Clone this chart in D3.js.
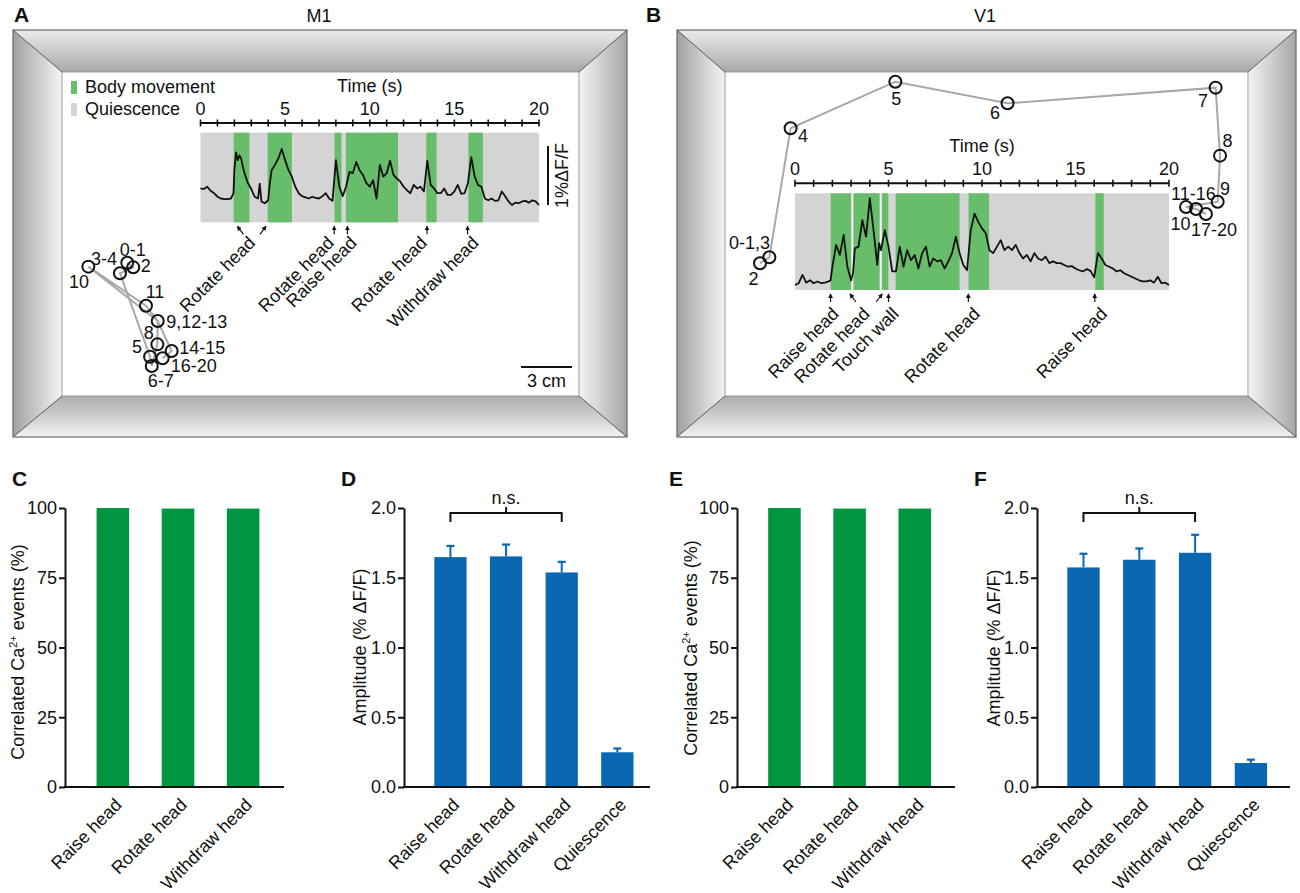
<!DOCTYPE html>
<html>
<head>
<meta charset="utf-8">
<script src="https://d3js.org/d3.v7.min.js"></script>
<style>
  body { margin: 0; background: #fff; }
  svg text { font-family: Arial, "Liberation Sans", Helvetica, sans-serif; fill: #111; }
</style>
</head>
<body>
<div id="fig"></div>
<script>
// ---------- data ----------
// panel A (M1): calcium trace, % dF/F against time (s)
const timeA = [0,0.2,0.4,0.6,0.8,1.0,1.2,1.4,1.6,1.8,1.95,2.0,2.1,2.2,2.3,2.4,2.5,2.6,2.8,3.0,3.2,3.4,3.5,3.6,3.8,4.0,4.1,4.2,
  4.4,4.6,4.8,5.0,5.2,5.4,5.6,5.8,6.0,6.2,6.4,6.6,6.8,7.0,7.2,7.4,7.6,7.8,8.0,8.2,8.4,8.6,8.8,9.0,9.2,9.4,9.6,9.8,
  10.0,10.2,10.4,10.6,10.8,11.0,11.2,11.4,11.6,11.8,12.0,12.2,12.4,12.6,12.8,13.0,13.2,13.4,13.6,13.8,14.0,14.2,14.4,
  14.6,14.8,15.0,15.2,15.4,15.6,15.8,16.0,16.2,16.4,16.6,16.8,17.0,17.2,17.4,17.6,17.8,18.0,18.2,18.4,18.6,18.8,19.0,
  19.2,19.4,19.6,19.8,20.0];
const dffA = [0.28,0.27,0.31,0.24,0.20,0.14,0.11,0.10,0.10,0.11,0.20,0.59,0.89,0.76,0.84,0.79,0.65,0.54,0.37,0.27,0.14,0.11,
  0.36,0.06,0.03,0.08,0.37,0.59,0.68,0.79,0.95,0.76,0.59,0.48,0.31,0.20,0.15,0.13,0.11,0.14,0.12,0.11,0.15,0.20,0.11,0.07,
  0.76,0.31,0.15,0.31,0.56,0.54,0.73,0.59,0.51,0.37,0.31,0.42,0.11,0.68,0.48,0.54,0.75,0.51,0.45,0.40,0.31,0.25,0.20,0.34,
  0.28,0.31,0.23,0.75,0.34,0.28,0.20,0.20,0.28,0.17,0.17,0.23,0.34,0.19,0.20,0.37,0.81,0.48,0.34,0.31,0.11,0.08,0.11,0.07,
  0.08,0.23,0.15,0.06,0.00,0.04,0.03,0.06,0.07,0.04,0.08,0.06,0.00];
const moveA = [[1.96,2.89],[3.97,5.40],[7.92,8.33],[8.59,11.67],[13.34,13.95],[15.83,16.68]];
const arrowTA = [2.36,3.69,7.9,8.68,13.38,15.78];
const arrowDirA = [-1,1,0,0,0,0];
const eventLabA = ["Rotate head","Rotate head","Raise head","Rotate head","Withdraw head"];
const eventTA = [3.3,7.95,9.3,13.45,16.5];

// panel A: head position (cm) at each second 0..20
const posXA = [3.84,3.84,4.19,3.41,3.41,5.18,5.28,5.28,5.61,5.63,1.55,4.94,5.63,5.63,6.45,6.45,5.92,5.92,5.92,5.92,5.92];
const posYA = [11.22,11.22,11.49,11.84,11.84,16.75,17.29,17.29,16.02,14.65,11.45,13.75,14.65,14.65,16.41,16.41,16.84,16.84,16.84,16.84,16.84];
const markLabA = ["0-1","2","3-4","5","6-7","8","9,12-13","10","11","14-15","16-20"];
const markSecA = [0,2,3,5,6,8,9,10,11,14,16];

// panel B (V1)
const timeB = [0,0.2,0.4,0.6,0.8,1.0,1.2,1.4,1.6,1.8,1.9,2.0,2.2,2.4,2.6,2.8,3.0,3.1,3.2,3.4,3.6,3.8,4.0,4.2,4.4,4.5,
  4.6,4.8,5.0,5.2,5.4,5.6,5.8,6.0,6.2,6.4,6.6,6.8,7.0,7.2,7.4,7.6,7.8,8.0,8.2,8.4,8.6,8.8,9.0,9.2,9.4,9.6,9.8,10.0,
  10.2,10.4,10.6,10.8,11.0,11.2,11.4,11.6,11.8,12.0,12.2,12.4,12.6,12.8,13.0,13.2,13.4,13.6,13.8,14.0,14.2,14.4,14.6,
  14.8,15.0,15.2,15.4,15.6,15.8,16.0,16.2,16.4,16.6,16.8,17.0,17.2,17.4,17.6,17.8,18.0,18.2,18.4,18.6,18.8,19.0,19.2,
  19.4,19.6,19.8,20.0];
const dffB = [0.00,0.03,0.17,0.04,0.08,0.03,0.06,0.03,0.04,0.06,0.08,0.31,0.68,0.51,0.85,0.31,0.08,0.20,0.62,0.65,1.10,0.82,
  1.47,0.93,0.34,0.71,0.59,0.93,0.65,0.23,0.23,0.65,0.31,0.59,0.42,0.51,0.28,0.54,0.65,0.31,0.45,0.40,0.42,0.28,0.40,0.54,
  0.82,0.54,0.34,0.25,0.93,1.21,1.07,0.96,0.88,0.59,0.54,0.65,0.76,0.59,0.65,0.59,0.68,0.54,0.45,0.51,0.40,0.54,0.45,0.42,
  0.48,0.37,0.40,0.37,0.37,0.34,0.31,0.32,0.28,0.25,0.23,0.27,0.24,0.13,0.54,0.45,0.34,0.31,0.28,0.23,0.25,0.20,0.17,0.14,
  0.11,0.08,0.06,0.06,0.08,0.04,0.14,0.03,0.04,0.00];
const moveB = [[1.91,3.0],[3.13,4.52],[4.65,4.99],[5.38,8.80],[9.28,10.38],[16.06,16.51]];
const splitB = [3.065,4.585];
const arrowTB = [1.9,3.1,4.5,5.0,9.27,16.03];
const arrowDirB = [0,-1,1,0,0,0];
const eventLabB = ["Raise head","Rotate head","Touch wall","Rotate head","Raise head"];
const eventTB = [2.4,4.05,5.6,9.95,16.75];

const posXB = [2.61,2.61,2.06,2.61,3.86,10.02,16.62,28.86,29.12,28.98,27.12,27.71,27.71,27.71,27.71,27.71,27.71,28.29,28.29,28.29,28.29];
const posYB = [10.90,10.90,11.25,10.90,3.31,0.57,1.84,0.92,4.92,7.63,7.94,8.06,8.06,8.06,8.06,8.06,8.06,8.35,8.35,8.35,8.35];
const markLabB = ["0-1,3","2","4","5","6","7","8","9","10","11-16","17-20"];
const markSecB = [0,2,4,5,6,7,8,9,10,11,17];

// bar panels
const catCE = ["Raise head","Rotate head","Withdraw head"];
const catDF = ["Raise head","Rotate head","Withdraw head","Quiescence"];
const corrC = [100,99.8,99.8];
const corrE = [100,99.8,99.8];
const ampD = [1.648,1.653,1.538,0.249];
const semD = [0.080,0.085,0.076,0.027];
const ampF = [1.574,1.629,1.679,0.172];
const semF = [0.098,0.081,0.129,0.024];
const ticksCorr = [0,25,50,75,100];
const ticksAmp = [0,0.5,1.0,1.5,2.0];

// ---------- layout ----------
const GREEN = "#67bd6a", GRAY = "#d4d4d4", BAR_G = "#009640", BAR_B = "#0a67b2", PATH_C = "#a8a8a8";
const FS = 18;
const svg = d3.select("#fig").append("svg").attr("width", 1300).attr("height", 893);
const defs = svg.append("defs");

function grad(id, x2, y2, c1, c2) {
  const g = defs.append("linearGradient").attr("id", id)
    .attr("x1", 0).attr("y1", 0).attr("x2", x2).attr("y2", y2);
  g.append("stop").attr("offset", 0).attr("stop-color", c1);
  g.append("stop").attr("offset", 1).attr("stop-color", c2);
}
grad("gTop", 0, 1, "#ececec", "#a8a8a8");
grad("gBot", 0, 1, "#acacac", "#f2f2f2");
grad("gLeft", 1, 0, "#a2a2a2", "#f4f4f4");
grad("gRight", 1, 0, "#f4f4f4", "#a6a6a6");

defs.append("marker").attr("id", "ah")
  .attr("viewBox", "0 0 6 6").attr("refX", 5).attr("refY", 3)
  .attr("markerWidth", 5).attr("markerHeight", 5).attr("orient", "auto")
  .attr("markerUnits", "userSpaceOnUse")
  .append("path").attr("d", "M0,0 L6,3 L0,6 Z").attr("fill", "#111");

function arena(o, i) {
  const g = svg.append("g");
  const polys = [
    {p: [[o[0],o[1]],[o[2],o[1]],[i[2],i[1]],[i[0],i[1]]], f: "url(#gTop)"},
    {p: [[i[0],i[3]],[i[2],i[3]],[o[2],o[3]],[o[0],o[3]]], f: "url(#gBot)"},
    {p: [[o[0],o[1]],[i[0],i[1]],[i[0],i[3]],[o[0],o[3]]], f: "url(#gLeft)"},
    {p: [[i[2],i[1]],[o[2],o[1]],[o[2],o[3]],[i[2],i[3]]], f: "url(#gRight)"}
  ];
  g.selectAll("polygon").data(polys).join("polygon")
    .attr("points", d => d.p.join(" ")).attr("fill", d => d.f);
  const corners = [[o[0],o[1],i[0],i[1]],[o[2],o[1],i[2],i[1]],[o[0],o[3],i[0],i[3]],[o[2],o[3],i[2],i[3]]];
  g.selectAll("line").data(corners).join("line")
    .attr("x1", d => d[0]).attr("y1", d => d[1]).attr("x2", d => d[2]).attr("y2", d => d[3])
    .attr("stroke", "#555").attr("stroke-width", 1);
  g.append("rect").attr("x", o[0]).attr("y", o[1]).attr("width", o[2]-o[0]).attr("height", o[3]-o[1])
    .attr("fill", "none").attr("stroke", "#666").attr("stroke-width", 1.2);
  g.append("rect").attr("x", i[0]).attr("y", i[1]).attr("width", i[2]-i[0]).attr("height", i[3]-i[1])
    .attr("fill", "#fff").attr("stroke", "#888").attr("stroke-width", 0.8);
}

function tracePanel(cfg) {
  const g = svg.append("g");
  const x = d3.scaleLinear().domain([0, 20]).range(cfg.xr);
  const y = d3.scaleLinear().domain([0, 1]).range([cfg.y0, cfg.y0 - 59]);
  g.append("rect").attr("x", x(0)).attr("y", cfg.rect[0]).attr("width", x(20) - x(0))
    .attr("height", cfg.rect[1] - cfg.rect[0]).attr("fill", GRAY);
  g.selectAll("rect.mv").data(cfg.bands).join("rect").attr("class", "mv")
    .attr("x", d => x(d[0])).attr("width", d => x(d[1]) - x(d[0]))
    .attr("y", cfg.rect[0]).attr("height", cfg.rect[1] - cfg.rect[0]).attr("fill", GREEN);
  g.selectAll("line.sp").data(cfg.splits || []).join("line").attr("class", "sp")
    .attr("x1", d => x(d)).attr("x2", d => x(d)).attr("y1", cfg.rect[0]).attr("y2", cfg.rect[1])
    .attr("stroke", "#f4f4f4").attr("stroke-width", 1.5);
  // time axis
  g.append("line").attr("x1", x(0)).attr("x2", x(20)).attr("y1", cfg.axY).attr("y2", cfg.axY)
    .attr("stroke", "#111").attr("stroke-width", 2);
  g.selectAll("line.tk").data(d3.range(0, 21)).join("line").attr("class", "tk")
    .attr("x1", d => x(d)).attr("x2", d => x(d)).attr("y1", cfg.axY - 3.5).attr("y2", cfg.axY + 3.5)
    .attr("stroke", "#111").attr("stroke-width", 1.6);
  g.selectAll("text.tl").data([0, 5, 10, 15, 20]).join("text").attr("class", "tl")
    .attr("x", d => x(d)).attr("y", cfg.axY - 8).attr("text-anchor", "middle")
    .attr("font-size", FS).text(d => d);
  g.append("text").attr("x", (x(0) + x(20)) / 2).attr("y", cfg.axY - 31)
    .attr("text-anchor", "middle").attr("font-size", FS).text("Time (s)");
  // trace
  const line = d3.line().x((d, k) => x(cfg.t[k])).y(d => y(d));
  g.append("path").datum(cfg.v).attr("d", line).attr("fill", "none")
    .attr("stroke", "#111").attr("stroke-width", 1.8).attr("stroke-linejoin", "round");
  // arrows
  const ab = cfg.rect[1];
  g.selectAll("line.ar").data(cfg.arrowT).join("line").attr("class", "ar")
    .attr("x1", (d, k) => x(d) - cfg.arrowDir[k] * 3).attr("y1", ab + 12)
    .attr("x2", (d, k) => x(d) + cfg.arrowDir[k] * 3).attr("y2", ab + 4)
    .attr("stroke", "#111").attr("stroke-width", 1.2).attr("marker-end", "url(#ah)");
  g.selectAll("text.ev").data(cfg.evLab).join("text").attr("class", "ev")
    .attr("transform", (d, k) => `translate(${x(cfg.evT[k])},${cfg.evY}) rotate(-45)`)
    .attr("text-anchor", "end").attr("font-size", FS).text(d => d);
  return {x, y, g};
}

function trajectory(cfg) {
  const g = svg.append("g");
  const x = d3.scaleLinear().domain([0, 1]).range([cfg.origin[0], cfg.origin[0] + 17]);
  const y = d3.scaleLinear().domain([0, 1]).range([cfg.origin[1], cfg.origin[1] + 17]);
  const line = d3.line().x((d, k) => x(cfg.px[k])).y((d, k) => y(cfg.py[k]));
  g.append("path").datum(cfg.px).attr("d", line).attr("fill", "none")
    .attr("stroke", PATH_C).attr("stroke-width", 2);
  g.selectAll("circle").data(cfg.sec).join("circle")
    .attr("cx", d => x(cfg.px[d])).attr("cy", d => y(cfg.py[d])).attr("r", 6)
    .attr("fill", "none").attr("stroke", "#111").attr("stroke-width", 2);
  g.selectAll("text").data(cfg.lab).join("text")
    .attr("x", (d, k) => x(cfg.px[cfg.sec[k]]) + cfg.off[k][0])
    .attr("y", (d, k) => y(cfg.py[cfg.sec[k]]) + cfg.off[k][1])
    .attr("text-anchor", (d, k) => cfg.off[k][2]).attr("font-size", FS).text(d => d);
  return {x, y};
}

// ---------- panel A ----------
svg.append("text").attr("x", 14).attr("y", 22).attr("font-size", 21).attr("font-weight", "bold").text("A");
svg.append("text").attr("x", 319).attr("y", 22).attr("text-anchor", "middle").attr("font-size", FS).text("M1");
arena([13, 30, 627, 437], [62, 72, 579, 396]);

const leg = svg.append("g");
leg.selectAll("rect").data([GREEN, GRAY]).join("rect")
  .attr("x", 71).attr("y", (d, k) => 81 + k * 22).attr("width", 6).attr("height", 13).attr("fill", d => d);
leg.selectAll("text").data(["Body movement", "Quiescence"]).join("text")
  .attr("x", 85).attr("y", (d, k) => 93 + k * 22).attr("font-size", FS).text(d => d);

const pA = tracePanel({xr: [200.5, 539], y0: 205, rect: [132.7, 222.3], axY: 123, bands: moveA,
  t: timeA, v: dffA, arrowT: arrowTA, arrowDir: arrowDirA, evLab: eventLabA, evT: eventTA, evY: 244});
// 1% dF/F scale bar
pA.g.append("line").attr("x1", 548).attr("x2", 548).attr("y1", pA.y(0)).attr("y2", pA.y(1))
  .attr("stroke", "#111").attr("stroke-width", 2);
pA.g.append("text").attr("transform", `translate(568,${(pA.y(0) + pA.y(1)) / 2}) rotate(-90)`)
  .attr("text-anchor", "middle").attr("font-size", FS).text("1%\u0394F/F");

const tA = trajectory({origin: [62, 72], px: posXA, py: posYA, sec: markSecA, lab: markLabA,
  off: [[5.5,-7,"middle"],[7.6,5,"start"],[-3,-8,"end"],[-8,-4,"end"],[9,21,"middle"],[-3.5,-5,"end"],
        [8.5,7,"start"],[-9.4,21.3,"middle"],[9,-8,"middle"],[7.5,3,"start"],[8,14,"start"]]});
// 3 cm scale bar
svg.append("line").attr("x1", 521).attr("x2", 521 + (tA.x(3) - tA.x(0))).attr("y1", 367).attr("y2", 367)
  .attr("stroke", "#111").attr("stroke-width", 2);
svg.append("text").attr("x", 521 + (tA.x(3) - tA.x(0)) / 2).attr("y", 387).attr("text-anchor", "middle")
  .attr("font-size", FS).text("3 cm");

// ---------- panel B ----------
svg.append("text").attr("x", 646).attr("y", 22).attr("font-size", 21).attr("font-weight", "bold").text("B");
svg.append("text").attr("x", 985).attr("y", 22).attr("text-anchor", "middle").attr("font-size", FS).text("V1");
arena([677, 30, 1296, 437], [725, 72, 1248, 396]);

tracePanel({xr: [795, 1169], y0: 285, rect: [193.3, 290], axY: 183.3, bands: moveB, splits: splitB,
  t: timeB, v: dffB, arrowT: arrowTB, arrowDir: arrowDirB, evLab: eventLabB, evT: eventTB, evY: 315});

trajectory({origin: [725, 72], px: posXB, py: posYB, sec: markSecB, lab: markLabB,
  off: [[0.7,-8,"end"],[-6.5,21.7,"middle"],[7.3,13.7,"start"],[1,23.3,"middle"],[-12.5,15.7,"middle"],
        [-12.7,19.3,"middle"],[7.5,-8.7,"middle"],[7.3,-6.7,"middle"],[-5.6,23,"middle"],[-2.6,-9,"middle"],[8,22,"middle"]]});

// ---------- bar panels ----------
function barPanel(cfg) {
  const g = svg.append("g");
  const y = d3.scaleLinear().domain(cfg.dom).range([787, 508]);
  const x = d3.scaleBand().domain(cfg.cats).range(cfg.band).paddingInner(cfg.pad).paddingOuter(0.5);
  g.selectAll("rect").data(cfg.vals).join("rect")
    .attr("x", (d, k) => x(cfg.cats[k])).attr("width", x.bandwidth())
    .attr("y", d => y(d)).attr("height", d => y(0) - y(d)).attr("fill", cfg.color);
  if (cfg.err) {
    const cx = k => x(cfg.cats[k]) + x.bandwidth() / 2;
    g.selectAll("line.eb").data(cfg.vals).join("line").attr("class", "eb")
      .attr("x1", (d, k) => cx(k)).attr("x2", (d, k) => cx(k))
      .attr("y1", d => y(d)).attr("y2", (d, k) => y(d + cfg.err[k]))
      .attr("stroke", cfg.color).attr("stroke-width", 2);
    g.selectAll("line.ec").data(cfg.vals).join("line").attr("class", "ec")
      .attr("x1", (d, k) => cx(k) - 4).attr("x2", (d, k) => cx(k) + 4)
      .attr("y1", (d, k) => y(d + cfg.err[k])).attr("y2", (d, k) => y(d + cfg.err[k]))
      .attr("stroke", cfg.color).attr("stroke-width", 2.2);
    // n.s. bracket over the three movement bars
    const by = 513, xl = cx(0), xm = cx(1), xr = cx(2);
    g.append("path").attr("d", `M${xl},${by + 9}V${by}H${xr}V${by + 9}M${xm},${by}V${by - 6}`)
      .attr("fill", "none").attr("stroke", "#111").attr("stroke-width", 2);
    g.append("text").attr("x", xm).attr("y", 504).attr("text-anchor", "middle").attr("font-size", FS).text("n.s.");
  }
  const ax = g.append("g").attr("transform", `translate(${cfg.ax},0)`)
    .call(d3.axisLeft(y).tickValues(cfg.ticks).tickSize(6).tickSizeOuter(0).tickPadding(2).tickFormat(cfg.fmt));
  ax.select(".domain").attr("stroke", "#111").attr("stroke-width", 2);
  ax.selectAll(".tick line").attr("stroke", "#111").attr("stroke-width", 2);
  ax.selectAll(".tick text").attr("font-size", FS).attr("fill", "#111")
    .attr("font-family", 'Arial, "Liberation Sans", sans-serif');
  g.append("line").attr("x1", cfg.ax - 1).attr("x2", cfg.xEnd).attr("y1", y(0)).attr("y2", y(0))
    .attr("stroke", "#111").attr("stroke-width", 2);
  g.selectAll("text.xl").data(cfg.cats).join("text").attr("class", "xl")
    .attr("transform", d => `translate(${x(d) + x.bandwidth() / 2 + 10},806) rotate(-45)`)
    .attr("text-anchor", "end").attr("font-size", FS).text(d => d);
  const yl = g.append("text").attr("transform", `translate(${cfg.ylX},${cfg.ylY}) rotate(-90)`)
    .attr("text-anchor", "middle").attr("font-size", FS);
  cfg.ylab(yl);
  svg.append("text").attr("x", cfg.letter[0]).attr("y", 486).attr("font-size", 21)
    .attr("font-weight", "bold").text(cfg.letter[1]);
}

const corrLabel = t => {
  t.append("tspan").text("Correlated Ca");
  t.append("tspan").attr("font-size", 11).attr("dy", -7).text("2+");
  t.append("tspan").attr("dy", 7).text(" events (%)");
};
const ampLabel = t => t.text("Amplitude (% \u0394F/F)");

barPanel({cats: catCE, vals: corrC, dom: [0, 100], ticks: ticksCorr, fmt: d3.format("d"), band: [64, 292], pad: 0.5,
  color: BAR_G, ax: 65, xEnd: 284, ylX: 24, ylY: 652, ylab: corrLabel, letter: [12, "C"]});
barPanel({cats: catDF, vals: ampD, err: semD, dom: [0, 2], ticks: ticksAmp, fmt: d3.format(".1f"), band: [406.5, 661.3], pad: 0.42,
  color: BAR_B, ax: 404, xEnd: 650, ylX: 366, ylY: 647, ylab: ampLabel, letter: [341, "D"]});
barPanel({cats: catCE, vals: corrE, dom: [0, 100], ticks: ticksCorr, fmt: d3.format("d"), band: [735.6, 963.6], pad: 0.5,
  color: BAR_G, ax: 737, xEnd: 955, ylX: 697, ylY: 648, ylab: corrLabel, letter: [669, "E"]});
barPanel({cats: catDF, vals: ampF, err: semF, dom: [0, 2], ticks: ticksAmp, fmt: d3.format(".1f"), band: [1039.4, 1295], pad: 0.42,
  color: BAR_B, ax: 1037, xEnd: 1290, ylX: 1000, ylY: 648, ylab: ampLabel, letter: [974, "F"]});
</script>
</body>
</html>
